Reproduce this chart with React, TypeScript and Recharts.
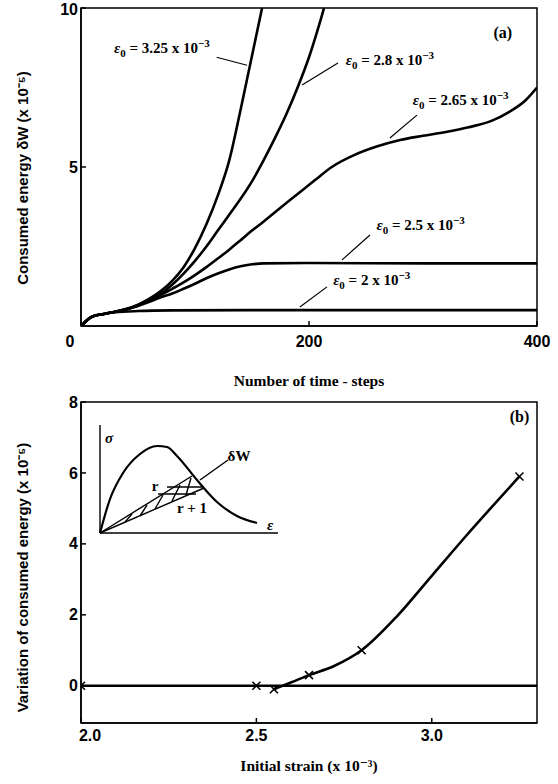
import React from "react";
import { LineChart, Line, XAxis, YAxis, ReferenceArea, ReferenceLine, ReferenceDot } from "recharts";

// ---- panel (a): consumed energy vs number of time steps ----
const stepsE2 = [0, 10, 20, 30, 50, 80, 150, 250, 400];
const energyE2 = [0, 0.3, 0.38, 0.43, 0.47, 0.49, 0.5, 0.5, 0.5];

const stepsE25 = [0, 10, 20, 30, 40, 50, 60, 70, 80, 90, 100, 110, 120, 130, 140, 150, 160, 200, 300, 400];
const energyE25 = [0, 0.3, 0.38, 0.45, 0.53, 0.63, 0.76, 0.9, 1.02, 1.17, 1.33, 1.5, 1.65, 1.78, 1.88, 1.94, 1.97, 1.98, 1.97, 1.97];

const stepsE265 = [0, 10, 20, 30, 40, 50, 60, 70, 80, 90, 100, 110, 120, 130, 140, 150, 160, 175, 190, 205, 220, 240, 260, 280, 300, 320, 340, 360, 375, 390, 400];
const energyE265 = [0, 0.3, 0.38, 0.45, 0.53, 0.64, 0.8, 0.98, 1.17, 1.37, 1.6, 1.85, 2.12, 2.4, 2.7, 3.0, 3.28, 3.72, 4.15, 4.58, 5.0, 5.38, 5.65, 5.85, 5.98, 6.1, 6.25, 6.45, 6.72, 7.1, 7.5];

const stepsE28 = [0, 10, 20, 30, 40, 50, 60, 70, 80, 90, 100, 110, 120, 130, 140, 150, 160, 170, 180, 190, 200, 210, 220];
const energyE28 = [0, 0.3, 0.38, 0.45, 0.53, 0.65, 0.82, 1.02, 1.3, 1.65, 2.05, 2.5, 3.0, 3.5, 4.0, 4.55, 5.2, 5.9, 6.65, 7.5, 8.45, 9.6, 10.9];

const stepsE325 = [0, 10, 20, 30, 40, 50, 60, 70, 80, 90, 100, 110, 120, 130, 140, 150, 160, 170];
const energyE325 = [0, 0.3, 0.38, 0.45, 0.54, 0.67, 0.86, 1.1, 1.42, 1.85, 2.45, 3.2, 4.1, 5.2, 6.8, 8.5, 10.2, 12];

const zip = (xs: number[], ys: number[]) => xs.map((t, i) => ({ t, w: ys[i] }));

const seriesA = [
  zip(stepsE2, energyE2),
  zip(stepsE25, energyE25),
  zip(stepsE265, energyE265),
  zip(stepsE28, energyE28),
  zip(stepsE325, energyE325),
];

// curve labels (strain value, anchor in data units) and their leader lines
const notes = [
  { m: "3.25", t: 71, w: 8.74 },
  { m: "2.8", t: 271, w: 8.36 },
  { m: "2.65", t: 333, w: 7.1 },
  { m: "2.5", t: 298, w: 3.18 },
  { m: "2", t: 255, w: 1.45 },
];
const leaders = [
  [[119, 8.45], [145.6, 8.2]],
  [[225.4, 8.27], [193.9, 7.58]],
  [[294.7, 6.63], [271, 5.91]],
  [[253.5, 2.86], [229, 2.08]],
  [[215.8, 1.23], [192, 0.6]],
];

// ---- panel (b): variation of consumed energy vs initial strain ----
const strainBase = [2.0, 2.5, 3.3];
const energyBase = [0, 0, 0];
const strainCurve = [2.55, 2.6, 2.65, 2.72, 2.8, 2.9, 3.0, 3.1, 3.25];
const energyCurve = [-0.1, 0.1, 0.3, 0.55, 1.0, 1.95, 3.1, 4.25, 5.9];
const strainMarks = [2.0, 2.5, 2.55, 2.65, 2.8, 3.25];
const energyMarks = [0, 0, -0.1, 0.3, 1.0, 5.9];

const zipB = (xs: number[], ys: number[]) => xs.map((s, i) => ({ s, v: ys[i] }));

// ---- inset: stress-strain sketch ----
const insetEps = [0, 1, 2.3, 4, 5.7, 6.7, 7.7, 9.7, 11.7, 13.7, 15.7];
const insetSig = [0, 3.4, 6, 7.9, 8.7, 8.6, 7.7, 5.3, 3.1, 1.7, 1.0];
const insetSegs = [
  [[0, 0], [0, 10.8]],
  [[0, 0], [17.8, 0]],
  [[0, 0], [9.2, 5.7]],
  [[0, 0], [10.4, 4.5]],
  [[6.7, 4.6], [10.4, 4.6]],
  [[5.8, 3.9], [9.6, 3.9]],
  [[2.5, 1.1], [3.2, 1.9]],
  [[4.0, 1.7], [4.7, 2.8]],
  [[5.5, 2.4], [6.3, 3.8]],
  [[7.2, 3.2], [8.0, 4.8]],
  [[8.6, 3.8], [9.1, 5.5]],
  [[10.0, 5.3], [12.8, 7.3]],
];
const insetText = [
  { s: "σ", e: 0.9, g: 9.5, it: true },
  { s: "δW", e: 13.9, g: 7.7, it: false },
  { s: "r", e: 5.5, g: 4.7, it: false },
  { s: "r + 1", e: 9.2, g: 2.5, it: false },
  { s: "ε", e: 17.0, g: 0.8, it: true },
];

const SERIF = "'Liberation Serif', 'DejaVu Serif', serif";
const SANS = "'Liberation Sans', Arial, sans-serif";

function StrainNote({ cx, cy, m }: any) {
  return (
    <text x={cx} y={cy + 5} textAnchor="middle" fontFamily={SERIF} fontWeight="bold" fontSize={15} fill="#000">
      <tspan fontStyle="italic">ε</tspan>
      <tspan dy={4} fontSize={11}>0</tspan>
      <tspan dy={-4}>{` = ${m} x 10`}</tspan>
      <tspan dy={-6} fontSize={11}>−3</tspan>
    </text>
  );
}

function Cross({ cx, cy }: any) {
  if (cx == null || cy == null) return null;
  const s = 4;
  return (
    <g stroke="#000" strokeWidth={1.6}>
      <line x1={cx - s} y1={cy - s} x2={cx + s} y2={cy + s} />
      <line x1={cx - s} y1={cy + s} x2={cx + s} y2={cy - s} />
    </g>
  );
}

function XTick({ x, y, payload, fmt, shift }: any) {
  const v = payload.value;
  const dx = shift && shift[v] ? shift[v] : 0;
  return (
    <text x={x + dx} y={y} dy="0.75em" textAnchor="middle" fontFamily={SANS} fontWeight="bold" fontSize={16} fill="#000">
      {fmt ? fmt(v) : v}
    </text>
  );
}

function YTick({ x, y, payload }: any) {
  return (
    <text x={x} y={y} dy="0.35em" textAnchor="end" fontFamily={SANS} fontWeight="bold" fontSize={16} fill="#000">
      {payload.value}
    </text>
  );
}

function YTitle({ viewBox, text, dy }: any) {
  const x = 22;
  const y = viewBox.y + viewBox.height / 2 + dy;
  return (
    <text x={x} y={y} transform={`rotate(-90 ${x} ${y})`} textAnchor="middle" dominantBaseline="central"
      fontFamily={SANS} fontWeight="bold" fontSize={15} fill="#000">
      {text}
    </text>
  );
}

function XTitle({ viewBox, text, dy }: any) {
  const x = viewBox.x + viewBox.width / 2;
  const y = viewBox.y + dy;
  return (
    <text x={x} y={y} textAnchor="middle" dominantBaseline="central" fontFamily={SERIF} fontWeight="bold" fontSize={15.5} fill="#000">
      {text}
    </text>
  );
}

function Tag({ cx, cy, s }: any) {
  return (
    <text x={cx} y={cy} textAnchor="middle" dominantBaseline="central" fontFamily={SERIF} fontWeight="bold" fontSize={16} fill="#000">
      {s}
    </text>
  );
}

export default function App() {
  return (
    <div style={{ position: "absolute", left: 0, top: 0, width: 558, height: 784, background: "#fff" }}>
      <LineChart width={558} height={392} margin={{ top: 8, right: 21, left: 0, bottom: 0 }}>
        <XAxis
          dataKey="t" type="number" domain={[0, 400]} ticks={[0, 200, 400]} allowDataOverflow
          height={66} tickSize={-5} tickMargin={14} stroke="#000" strokeWidth={1.5}
          tick={<XTick shift={{ 0: -11 }} />}
          label={<XTitle text="Number of time - steps" dy={54} />}
        />
        <YAxis
          dataKey="w" type="number" domain={[0, 10]} ticks={[5, 10]} allowDataOverflow
          width={81} tickSize={-5} tickMargin={8} stroke="#000" strokeWidth={1.5}
          tick={<YTick />}
          label={<YTitle text="Consumed energy δW (x 10⁻⁵)" dy={11} />}
        />
        <ReferenceArea x1={0} x2={400} y1={0} y2={10} fill="none" stroke="#000" strokeWidth={1.5} />
        {seriesA.map((d, i) => (
          <Line key={i} data={d} dataKey="w" type="monotone" stroke="#000" strokeWidth={2.6} dot={false} isAnimationActive={false} />
        ))}
        {leaders.map((l, i) => (
          <ReferenceLine key={"l" + i} segment={[{ x: l[0][0], y: l[0][1] }, { x: l[1][0], y: l[1][1] }]} stroke="#000" strokeWidth={1.2} />
        ))}
        {notes.map((n, i) => (
          <ReferenceDot key={"n" + i} x={n.t} y={n.w} r={0} shape={(p: any) => <StrainNote cx={p.cx} cy={p.cy} m={n.m} />} />
        ))}
        <ReferenceDot x={370} y={9.22} r={0} shape={(p: any) => <Tag cx={p.cx} cy={p.cy} s="(a)" />} />
      </LineChart>

      <div style={{ position: "relative", width: 558, height: 392 }}>
        <LineChart width={558} height={392} margin={{ top: 10, right: 21, left: 0, bottom: 0 }}>
          <XAxis
            dataKey="s" type="number" domain={[2.0, 3.3]} ticks={[2.0, 2.5, 3.0]} allowDataOverflow
            height={61} tickSize={-5} tickMargin={11} stroke="#000" strokeWidth={1.5}
            tick={<XTick fmt={(v: number) => v.toFixed(1)} shift={{ 2: 9 }} />}
            label={<XTitle text="Initial strain (x 10⁻³)" dy={42} />}
          />
          <YAxis
            dataKey="v" type="number" domain={[-1.05, 8]} ticks={[0, 2, 4, 6, 8]} allowDataOverflow
            width={81} tickSize={-5} tickMargin={8} stroke="#000" strokeWidth={1.5}
            tick={<YTick />}
            label={<YTitle text="Variation of consumed energy (x 10⁻⁵)" dy={15} />}
          />
          <ReferenceArea x1={2.0} x2={3.3} y1={-1.05} y2={8} fill="none" stroke="#000" strokeWidth={1.5} />
          <Line data={zipB(strainBase, energyBase)} dataKey="v" type="linear" stroke="#000" strokeWidth={2.4} dot={false} isAnimationActive={false} />
          <Line data={zipB(strainCurve, energyCurve)} dataKey="v" type="monotone" stroke="#000" strokeWidth={2.6} dot={false} isAnimationActive={false} />
          <Line data={zipB(strainMarks, energyMarks)} dataKey="v" stroke="none" dot={<Cross />} isAnimationActive={false} />
          <ReferenceDot x={3.25} y={7.58} r={0} shape={(p: any) => <Tag cx={p.cx} cy={p.cy} s="(b)" />} />
        </LineChart>

        <div style={{ position: "absolute", left: 98, top: 31 }}>
          <LineChart width={184} height={112} margin={{ top: 2, right: 2, left: 2, bottom: 2 }}>
            <XAxis dataKey="e" type="number" domain={[0, 18]} hide />
            <YAxis dataKey="g" type="number" domain={[0, 10.8]} hide />
            <Line data={insetEps.map((e, i) => ({ e, g: insetSig[i] }))} dataKey="g" type="monotone" stroke="#000" strokeWidth={2.2} dot={false} isAnimationActive={false} />
            {insetSegs.map((sg, i) => (
              <ReferenceLine key={i} segment={[{ x: sg[0][0], y: sg[0][1] }, { x: sg[1][0], y: sg[1][1] }]} stroke="#000" strokeWidth={1.4} ifOverflow="visible" />
            ))}
            {insetText.map((t, i) => (
              <ReferenceDot key={"t" + i} x={t.e} y={t.g} r={0}
                shape={(p: any) => (
                  <text x={p.cx} y={p.cy} textAnchor="middle" dominantBaseline="central" fontFamily={SERIF}
                    fontWeight="bold" fontStyle={t.it ? "italic" : "normal"} fontSize={15} fill="#000">
                    {t.s}
                  </text>
                )} />
            ))}
          </LineChart>
        </div>
      </div>
    </div>
  );
}
